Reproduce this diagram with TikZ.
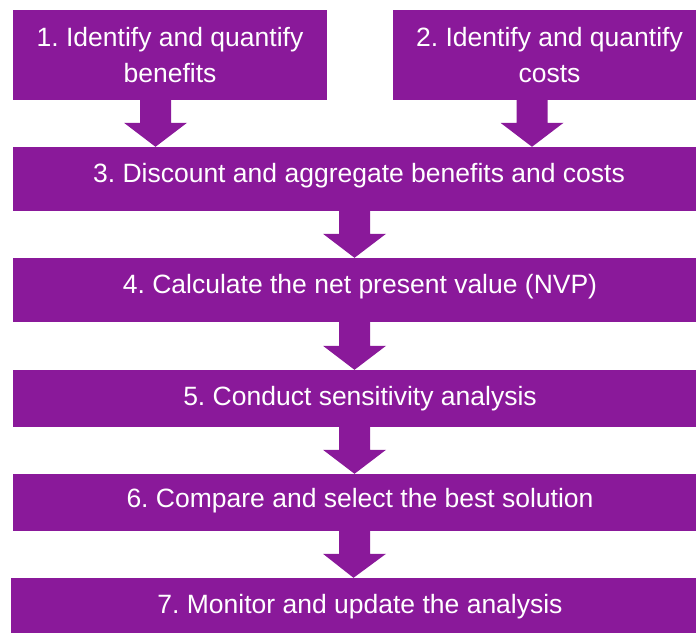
\documentclass[tikz,border=0pt]{standalone}
\usepackage{fontspec}
\setmainfont{Liberation Sans}
\usetikzlibrary{calc}
\frenchspacing
\definecolor{purp}{RGB}{138,25,154}
\tikzset{
  box/.style={fill=purp, draw=none, inner sep=0pt, rectangle},
  txt/.style={text=white, inner sep=0pt, align=center, font=\fontsize{26.5}{36}\selectfont},
  arr/.style={fill=purp, draw=none}
}
\newcommand{\blockarrow}[2]{%
  \fill[arr] let \p1=(#1), \p2=(#2) in
    (\x1-15.5pt,\y1) -- (\x1+15.5pt,\y1) -- (\x1+15.5pt,\y2+24pt) -- (\x1+31.5pt,\y2+24pt)
    -- (\x2,\y2) -- (\x1-31.5pt,\y2+24pt) -- (\x1-15.5pt,\y2+24pt) -- cycle;}
\begin{document}
\begin{tikzpicture}[x=1pt,y=-1pt]
\useasboundingbox (0,0) rectangle (696,633);
% boxes
\node[box, minimum width=314pt, minimum height=90pt] (b1) at (170,55) {};
\node[box, minimum width=303pt, minimum height=90pt] (b2) at (544.5,55) {};
\node[box, minimum width=683pt, minimum height=64pt] (b3) at (354.5,179) {};
\node[box, minimum width=683pt, minimum height=64pt] (b4) at (354.5,290) {};
\node[box, minimum width=683pt, minimum height=57pt] (b5) at (354.5,398.5) {};
\node[box, minimum width=683pt, minimum height=57pt] (b6) at (354.5,502.5) {};
\node[box, minimum width=685pt, minimum height=55pt] (b7) at (353.5,605.5) {};
% texts
\node[txt, anchor=base] (t1a) at (170,46.5) {1. Identify and quantify};
\node[txt, anchor=base] (t1b) at (170,82.7) {benefits};
\node[txt, anchor=base] (t2a) at (549.5,46.5) {2. Identify and quantify};
\node[txt, anchor=base] (t2b) at (549.5,82.7) {costs};
\node[txt, anchor=base] (t3) at (359,182.3) {3. Discount and aggregate benefits and costs};
\node[txt, anchor=base] (t4) at (360,293.3) {4. Calculate the net present value (NVP)};
\node[txt, anchor=base] (t5) at (360,405.7) {5. Conduct sensitivity analysis};
\node[txt, anchor=base] (t6) at (360,507) {6. Compare and select the best solution};
\node[txt, anchor=base] (t7) at (360,613) {7. Monitor and update the analysis};
% arrow anchor points
\coordinate (s1) at ([xshift=-14.5pt]b1.south);
\coordinate (e1) at (s1 |- b3.north);
\coordinate (s2) at ([xshift=-12.5pt]b2.south);
\coordinate (e2) at (s2 |- b3.north);
\blockarrow{s1}{e1}
\blockarrow{s2}{e2}
\blockarrow{b3.south}{b4.north}
\blockarrow{b4.south}{b5.north}
\blockarrow{b5.south}{b6.north}
\blockarrow{b6.south}{b7.north}
\end{tikzpicture}
\end{document}
